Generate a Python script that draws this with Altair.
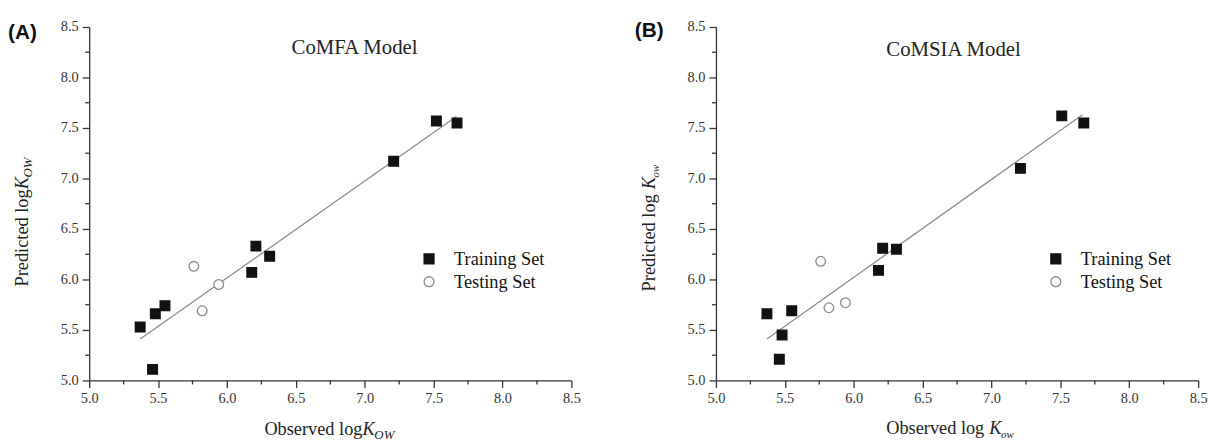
import altair as alt
import pandas as pd

# ---------------- data ----------------
set_names = ["Training Set", "Testing Set"]

# Panel A : CoMFA model
a_train_obs = [5.37, 5.46, 5.48, 5.55, 6.18, 6.21, 6.31, 7.21, 7.52, 7.67]
a_train_pred = [5.53, 5.11, 5.66, 5.74, 6.07, 6.33, 6.23, 7.17, 7.57, 7.55]
a_test_obs = [5.76, 5.82, 5.94]
a_test_pred = [6.13, 5.69, 5.95]
a_fit_obs = [5.37, 7.665]
a_fit_pred = [5.41, 7.613]

# Panel B : CoMSIA model
b_train_obs = [5.37, 5.46, 5.48, 5.55, 6.18, 6.21, 6.31, 7.21, 7.51, 7.67]
b_train_pred = [5.66, 5.21, 5.45, 5.69, 6.09, 6.31, 6.30, 7.10, 7.62, 7.55]
b_test_obs = [5.76, 5.82, 5.94]
b_test_pred = [6.18, 5.72, 5.77]
b_fit_obs = [5.37, 7.66]
b_fit_pred = [5.41, 7.63]

# axis ticks
major_ticks = [5.0, 5.5, 6.0, 6.5, 7.0, 7.5, 8.0, 8.5]
minor_ticks = [5.25, 5.75, 6.25, 6.75, 7.25, 7.75, 8.25]
axis_domain = [5.0, 8.5]

SERIF = "Liberation Serif"
SANS = "Liberation Sans"
W, H = 487, 357
AXIS_COLOR = "#333333"


def make_axis():
    return alt.Axis(
        values=major_ticks,
        format=".1f",
        tickSize=7,
        title=None,
        grid=False,
        domainColor=AXIS_COLOR,
        domainWidth=1.3,
        tickColor=AXIS_COLOR,
        tickWidth=1.3,
        labelFont=SERIF,
        labelFontSize=14.5,
        labelColor=AXIS_COLOR,
        labelPadding=4,
        labelFlush=False,
        labelOverlap=False,
    )


def txt(text, x, y, size, font=SERIF, style="normal", weight="normal",
        align="left", baseline="alphabetic", angle=0, color="#222222"):
    return alt.Chart(alt.Data(values=[{}])).mark_text(
        text=text, font=font, fontSize=size, fontStyle=style, fontWeight=weight,
        align=align, baseline=baseline, angle=angle, color=color,
    ).encode(x=alt.value(x), y=alt.value(y))


def panel(train_x, train_y, test_x, test_y, fit_x, fit_y, tag, tag_y,
          title, title_x, title_y, sub, ylog, xbase):
    pts = pd.DataFrame({
        "obs": train_x + test_x,
        "pred": train_y + test_y,
        "set": [set_names[0]] * len(train_x) + [set_names[1]] * len(test_x),
    })
    fit = pd.DataFrame({"obs": fit_x, "pred": fit_y})
    minor = pd.DataFrame({"v": minor_ticks})
    xs = alt.Scale(domain=axis_domain, nice=False, zero=False)
    ys = alt.Scale(domain=axis_domain, nice=False, zero=False)

    leg = alt.Legend(
        orient="none", legendX=334, legendY=225, title=None,
        labelFont=SERIF, labelFontSize=18.5, labelColor="#111111",
        symbolSize=100, labelOffset=16, rowPadding=4, padding=0,
        symbolStrokeWidth=1.3,
    )

    line = alt.Chart(fit).mark_line(color="#8c8c8c", strokeWidth=1.3).encode(
        x=alt.X("obs:Q", scale=xs, axis=make_axis()),
        y=alt.Y("pred:Q", scale=ys, axis=make_axis()),
    )
    minor_x = alt.Chart(minor).mark_rule(color=AXIS_COLOR, strokeWidth=1.3).encode(
        x=alt.X("v:Q", scale=xs), y=alt.value(H), y2=alt.value(H + 4))
    minor_y = alt.Chart(minor).mark_rule(color=AXIS_COLOR, strokeWidth=1.3).encode(
        y=alt.Y("v:Q", scale=ys), x=alt.value(-4), x2=alt.value(0))
    points = alt.Chart(pts).mark_point(filled=True, size=95, strokeWidth=1.3, opacity=1).encode(
        x=alt.X("obs:Q", scale=xs),
        y=alt.Y("pred:Q", scale=ys),
        shape=alt.Shape("set:N", scale=alt.Scale(domain=set_names, range=["square", "circle"]), legend=leg),
        fill=alt.Fill("set:N", scale=alt.Scale(domain=set_names, range=["#111111", "#ffffff"]), legend=leg),
        stroke=alt.Stroke("set:N", scale=alt.Scale(domain=set_names, range=["#111111", "#8a8a8a"]), legend=leg),
    )

    sub_size = 13 if sub == "OW" else 11
    xb = H + xbase
    layers = [line, minor_x, minor_y, points,
              txt(tag, -82, tag_y, 21, font=SANS, weight="bold", baseline="middle", color="#111111"),
              txt(title, title_x, title_y, 21, align="center", baseline="middle"),
              # x axis title pieces
              txt("Observed log", 276 - (5 if ylog else 0), xb, 18.5, align="right"),
              txt("K", 276, xb, 18.5, style="italic"),
              txt(sub, 288, xb + 4, sub_size, style="italic"),
              # y axis title pieces (rotated)
              txt("Predicted log", -62, 164 + (5 if ylog else 0), 18.5, align="right", angle=270),
              txt("K", -62, 164, 18.5, style="italic", angle=270),
              txt(sub, -58, 152, sub_size, style="italic", angle=270),
              ]
    return alt.layer(*layers).properties(width=W, height=H)


pa = panel(a_train_obs, a_train_pred, a_test_obs, a_test_pred, a_fit_obs, a_fit_pred,
           "(A)", 6, "CoMFA Model", 268, 21, "OW", False, 55)
pb = panel(b_train_obs, b_train_pred, b_test_obs, b_test_pred, b_fit_obs, b_fit_pred,
           "(B)", 4, "CoMSIA Model", 240, 23, "ow", True, 54)

chart = alt.hconcat(pa, pb, spacing=146, bounds="flush").resolve_scale(
    shape="independent", fill="independent", stroke="independent"
).resolve_legend(
    shape="independent", fill="independent", stroke="independent"
).configure(
    padding={"top": 9, "left": 0, "right": 5, "bottom": 0},
    background="white",
).configure_view(stroke=None)

chart.save("out.html", embed_options={"renderer": "svg", "actions": False})
